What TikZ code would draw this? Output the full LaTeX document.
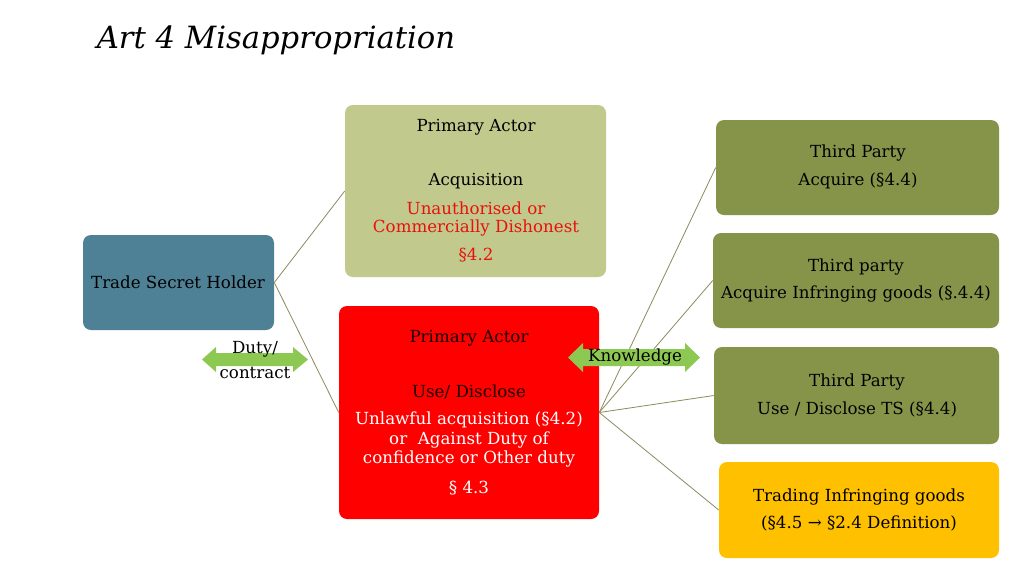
\documentclass[tikz,border=0pt]{standalone}
\usepackage{fontspec}
\setmainfont{DejaVu Serif}
\usetikzlibrary{fit}
\definecolor{tshc}{HTML}{4F8196}
\definecolor{acqc}{HTML}{C2C98D}
\definecolor{usec}{HTML}{FF0000}
\definecolor{thirdc}{HTML}{86944A}
\definecolor{tradec}{HTML}{FFC000}
\definecolor{arrowc}{HTML}{8DC853}
\definecolor{linkc}{HTML}{8C8A5E}
\definecolor{darktxt}{HTML}{1A0000}
\definecolor{redtxt}{HTML}{E8120C}
\begin{document}
\begin{tikzpicture}[x=0.75pt,y=-0.75pt,
  box/.style={rounded corners=6pt, inner sep=0pt, draw=none},
  link/.style={draw=linkc, line width=0.6pt},
  txt/.style={font=\fontsize{12.5}{14}\selectfont, inner sep=0pt, anchor=center},
  title/.style={font=\fontsize{23}{26}\selectfont\itshape, inner sep=0pt, anchor=center}]
\useasboundingbox (0,0) rectangle (1024,576);
\fill[white] (0,0) rectangle (1024,576);
% title
\node[title] (ttl) at (276,40) {Art 4 Misappropriation};
% boxes
\node[box, fill=tshc, fit={(83,235) (274,330)}] (tsh) {};
\node[box, fill=acqc, fit={(345,105) (606,277)}] (acq) {};
\node[box, fill=usec, fit={(339,306) (599,519)}] (use) {};
\node[box, fill=thirdc, fit={(716,120) (999,215)}] (tp1) {};
\node[box, fill=thirdc, fit={(713,233) (999,328)}] (tp2) {};
\node[box, fill=thirdc, fit={(714,347) (999,444)}] (tp3) {};
\node[box, fill=tradec, fit={(719,462) (999,558)}] (trd) {};
% connectors
\draw[link] (tsh.east) -- (acq.west);
\draw[link] (tsh.east) -- (use.west);
\draw[link] (use.east) -- (tp1.west);
\draw[link] (use.east) -- (tp2.west);
\draw[link] (use.east) -- (tp3.west);
\draw[link] (use.east) -- (trd.west);
% double arrows
\fill[arrowc] (202,359.5) -- (216,347) -- (216,353) -- (293,353) -- (293,347) -- (308,359.5) -- (293,372) -- (293,366) -- (216,366) -- (216,372) -- cycle;
\fill[arrowc] (568,357.5) -- (583,343) -- (583,349) -- (685,349) -- (685,343) -- (700,357.5) -- (685,372) -- (685,366) -- (583,366) -- (583,372) -- cycle;
% texts
\node[txt] (t1) at (178,282) {Trade Secret Holder};
\node[txt] (t2) at (476,127) {Primary Actor};
\node[txt] (t3) at (476,181) {Acquisition};
\node[txt, text=redtxt] (t4) at (476,208) {Unauthorised or};
\node[txt, text=redtxt] (t5) at (476,228) {Commercially Dishonest};
\node[txt, text=redtxt] (t6) at (476,255) {§4.2};
\node[txt, text=darktxt] (t7) at (469,338) {Primary Actor};
\node[txt, text=darktxt] (t8) at (469,392) {Use/ Disclose};
\node[txt, text=white] (t9) at (469,420) {Unlawful acquisition (§4.2)};
\node[txt, text=white] (t10) at (469,440) {or~~Against Duty of};
\node[txt, text=white] (t11) at (469,459) {confidence or Other duty};
\node[txt, text=white] (t12) at (469,488) {§ 4.3};
\node[txt] (t13) at (858,153) {Third Party};
\node[txt] (t14) at (858,181) {Acquire (§4.4)};
\node[txt] (t15) at (856,267) {Third party};
\node[txt] (t16) at (856,294) {Acquire Infringing goods (§.4.4)};
\node[txt] (t17) at (857,382) {Third Party};
\node[txt] (t18) at (857,409) {Use / Disclose TS (§4.4)};
\node[txt] (t19) at (859,497) {Trading Infringing goods};
\node[txt] (t20) at (859,523) {(§4.5 → §2.4 Definition)};
\node[txt] (t21) at (255,349) {Duty/};
\node[txt] (t22) at (255,373) {contract};
\node[txt] (t23) at (635,357) {Knowledge};
\end{tikzpicture}
\end{document}
